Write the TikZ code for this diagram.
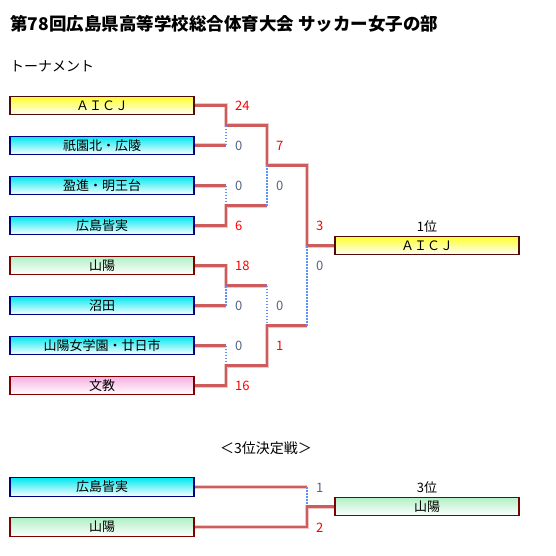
\documentclass[tikz,border=0pt]{standalone}
\usepackage{fontspec}
\setmainfont{Noto Sans CJK JP}
\usetikzlibrary{positioning,calc}
\definecolor{lineRed}{RGB}{205,92,92}
\definecolor{lineBlue}{RGB}{95,145,250}
\definecolor{scoreGray}{RGB}{84,98,128}
\definecolor{edgeBrown}{RGB}{80,10,10}
\definecolor{edgeRed}{RGB}{128,0,0}
\definecolor{edgeNavy}{RGB}{0,0,128}

\begin{document}
\begin{tikzpicture}[x=1pt,y=-1pt,
  team/.style={draw,line width=1.2pt,minimum width=184pt,minimum height=18.5pt,inner sep=0pt,
    bottom color=white,font=\fontsize{13}{15}\selectfont},
  yel/.style={draw=edgeBrown,top color={rgb,255:red,255;green,255;blue,40}},
  cya/.style={draw=edgeNavy,top color={rgb,255:red,0;green,232;blue,240}},
  grn/.style={draw=edgeRed,top color={rgb,255:red,176;green,240;blue,196}},
  pnk/.style={draw=edgeRed,top color={rgb,255:red,246;green,176;blue,226}},
  win/.style={draw=lineRed,line width=2.3pt,preaction={draw=lineRed!35,line width=4pt}},
  lose/.style={draw=lineBlue,line width=2pt,dash pattern=on 1.6pt off 1.4pt},
  score/.style={anchor=west,inner sep=0pt,font=\fontsize{13}{15}\selectfont},
  hi/.style={score,text=red},
  lo/.style={score,text=scoreGray}]
\useasboundingbox (0,0) rectangle (555,556);

% headings
\node[anchor=west,inner sep=0pt,font=\fontsize{17.5}{20}\selectfont\bfseries] (title) at (10,24)
  {第78回広島県高等学校総合体育大会 サッカー女子の部};
\node[anchor=west,inner sep=0pt,font=\fontsize{14}{16}\selectfont] (sub) at (10,66) {トーナメント};

% first round entries
\foreach \i/\name/\sty in {1/ＡＩＣＪ/yel,2/祇園北・広陵/cya,3/盈進・明王台/cya,4/広島皆実/cya,
    5/山陽/grn,6/沼田/cya,7/山陽女学園・廿日市/cya,8/文教/pnk}
  \node[team,\sty] (t\i) at (102,{65.5+40*\i}) {\name};

% champion
\node[team,yel] (champ) at (427,245.5) {ＡＩＣＪ};
\node[inner sep=0pt,font=\fontsize{13}{15}\selectfont] (place1) at (427,227) {1位};

% junctions
\coordinate (m1) at (226,125.5);
\coordinate (m2) at (226,205.5);
\coordinate (m3) at (226,285.5);
\coordinate (m4) at (226,365.5);
\coordinate (s1) at (267,165.5);
\coordinate (s2) at (267,325.5);
\coordinate (fin) at (307,245.5);

% upper half
\draw[win] (t1.east) -| (m1) -| (s1) -| (fin) -- (champ.west);
\draw[win] (t2.east) -- (t2.east -| m1);
\draw[lose] (t2.east -| m1) -- (m1);
\draw[win] (t3.east) -- (t3.east -| m2);
\draw[lose] (t3.east -| m2) -- (m2);
\draw[win] (t4.east) -| (m2) -- (m2 -| s1);
\draw[lose] (m2 -| s1) -- (s1);
% lower half
\draw[win] (t5.east) -| (m3) -- (m3 -| s2);
\draw[lose] (m3 -| s2) -- (s2);
\draw[win] (t6.east) -- (t6.east -| m3);
\draw[lose] (t6.east -| m3) -- (m3);
\draw[win] (t7.east) -- (t7.east -| m4);
\draw[lose] (t7.east -| m4) -- (m4);
\draw[win] (t8.east) -| (m4) -| (s2) -- (s2 -| fin);
\draw[lose] (s2 -| fin) -- (fin);

% scores
\node[hi] (a1) at (235,105.5) {24};
\node[lo] (a2) at (235,145.5) {0};
\node[lo] (a3) at (235,185.5) {0};
\node[hi] (a4) at (235,225.5) {6};
\node[hi] (a5) at (235,265.5) {18};
\node[lo] (a6) at (235,305.5) {0};
\node[lo] (a7) at (235,345.5) {0};
\node[hi] (a8) at (235,385.5) {16};
\node[hi] (b1) at (276,145.5) {7};
\node[lo] (b2) at (276,185.5) {0};
\node[lo] (b3) at (276,305.5) {0};
\node[hi] (b4) at (276,345.5) {1};
\node[hi] (c1) at (316,225.5) {3};
\node[lo] (c2) at (316,265.5) {0};

% third place match
\node[font=\fontsize{14}{16}\selectfont,inner sep=0pt] (third) at (266,448) {＜3位決定戦＞};
\node[team,cya] (u1) at (102,487) {広島皆実};
\node[team,grn] (u2) at (102,527) {山陽};
\node[team,grn] (bronze) at (427,506.5) {山陽};
\node[inner sep=0pt,font=\fontsize{13}{15}\selectfont] (place3) at (427,488) {3位};
\coordinate (m5) at (307,506.5);
\draw[win] (u1.east) -- (u1.east -| m5);
\draw[lose] (u1.east -| m5) -- (m5);
\draw[win] (u2.east) -| (m5) -- (bronze.west);
\node[lo] (d1) at (316,488) {1};
\node[hi] (d2) at (316,528) {2};
\end{tikzpicture}
\end{document}
